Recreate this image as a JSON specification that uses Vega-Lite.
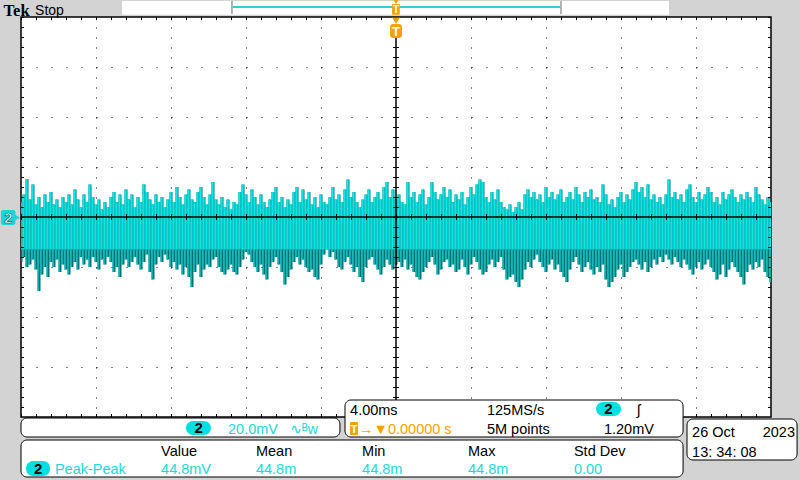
{
  "$schema": "https://vega.github.io/schema/vega-lite/v6.json",
  "width": 750,
  "height": 400,
  "autosize": {"type": "none"},
  "padding": {"left": 21, "top": 17, "right": 29, "bottom": 63},
  "background": "#d3d3d3",
  "config": {
    "view": {"fill": "#ffffff", "stroke": "#000000", "strokeWidth": 1.5},
    "text": {"font": "Liberation Sans", "fontSize": 14.5, "align": "left", "baseline": "alphabetic"}
  },
  "datasets": {
    "one": [{"k": 1}],
    "trace": [
      {"t":-20.00,"hi":6,"lo":-18},{"t":-19.84,"hi":9,"lo":-16},{"t":-19.68,"hi":15.2,"lo":-20},{"t":-19.52,"hi":7,"lo":-19},{"t":-19.36,"hi":13,"lo":-17},
      {"t":-19.20,"hi":5,"lo":-21},{"t":-19.04,"hi":8,"lo":-29.6},{"t":-18.88,"hi":4,"lo":-23},{"t":-18.72,"hi":9,"lo":-20},{"t":-18.56,"hi":6,"lo":-24},
      {"t":-18.40,"hi":10,"lo":-18},{"t":-18.24,"hi":5,"lo":-20},{"t":-18.08,"hi":7,"lo":-17},{"t":-17.92,"hi":4,"lo":-22},{"t":-17.76,"hi":8,"lo":-19},
      {"t":-17.60,"hi":6,"lo":-21},{"t":-17.44,"hi":9,"lo":-23},{"t":-17.28,"hi":5,"lo":-20},{"t":-17.12,"hi":11,"lo":-18},{"t":-16.96,"hi":7,"lo":-21},
      {"t":-16.80,"hi":4,"lo":-16},{"t":-16.64,"hi":9,"lo":-19},{"t":-16.48,"hi":6,"lo":-17},{"t":-16.32,"hi":13,"lo":-20},{"t":-16.16,"hi":8,"lo":-16},
      {"t":-16.00,"hi":5,"lo":-18},{"t":-15.84,"hi":7,"lo":-21},{"t":-15.68,"hi":3,"lo":-17},{"t":-15.52,"hi":6,"lo":-19},{"t":-15.36,"hi":4,"lo":-16},
      {"t":-15.20,"hi":8,"lo":-18},{"t":-15.04,"hi":10,"lo":-22},{"t":-14.88,"hi":6,"lo":-20},{"t":-14.72,"hi":9,"lo":-24},{"t":-14.56,"hi":5,"lo":-19},
      {"t":-14.40,"hi":11,"lo":-17},{"t":-14.24,"hi":7,"lo":-20},{"t":-14.08,"hi":9,"lo":-18},{"t":-13.92,"hi":4,"lo":-16},{"t":-13.76,"hi":8,"lo":-19},
      {"t":-13.60,"hi":6,"lo":-21},{"t":-13.44,"hi":13,"lo":-18},{"t":-13.28,"hi":10,"lo":-15},{"t":-13.12,"hi":7,"lo":-22},{"t":-12.96,"hi":5,"lo":-25},
      {"t":-12.80,"hi":9,"lo":-19},{"t":-12.64,"hi":6,"lo":-16},{"t":-12.48,"hi":8,"lo":-18},{"t":-12.32,"hi":4,"lo":-15},{"t":-12.16,"hi":7,"lo":-17},
      {"t":-12.00,"hi":10,"lo":-20},{"t":-11.84,"hi":6,"lo":-18},{"t":-11.68,"hi":12,"lo":-21},{"t":-11.52,"hi":8,"lo":-19},{"t":-11.36,"hi":5,"lo":-23},
      {"t":-11.20,"hi":9,"lo":-20},{"t":-11.04,"hi":11,"lo":-24},{"t":-10.88,"hi":7,"lo":-28},{"t":-10.72,"hi":6,"lo":-22},{"t":-10.56,"hi":10,"lo":-19},
      {"t":-10.40,"hi":12,"lo":-24},{"t":-10.24,"hi":8,"lo":-21},{"t":-10.08,"hi":5,"lo":-19},{"t":-9.92,"hi":9,"lo":-20},{"t":-9.76,"hi":14,"lo":-17},
      {"t":-9.60,"hi":7,"lo":-16},{"t":-9.44,"hi":5,"lo":-20},{"t":-9.28,"hi":8,"lo":-22},{"t":-9.12,"hi":4,"lo":-23},{"t":-8.96,"hi":7,"lo":-21},
      {"t":-8.80,"hi":3,"lo":-19},{"t":-8.64,"hi":6,"lo":-22},{"t":-8.48,"hi":5,"lo":-23},{"t":-8.32,"hi":10,"lo":-20},{"t":-8.16,"hi":13,"lo":-17},
      {"t":-8.00,"hi":9,"lo":-14},{"t":-7.84,"hi":6,"lo":-15},{"t":-7.68,"hi":11,"lo":-18},{"t":-7.52,"hi":8,"lo":-20},{"t":-7.36,"hi":5,"lo":-22},
      {"t":-7.20,"hi":9,"lo":-19},{"t":-7.04,"hi":6,"lo":-23},{"t":-6.88,"hi":4,"lo":-25},{"t":-6.72,"hi":7,"lo":-20},{"t":-6.56,"hi":10,"lo":-18},
      {"t":-6.40,"hi":12,"lo":-16},{"t":-6.24,"hi":6,"lo":-19},{"t":-6.08,"hi":8,"lo":-22},{"t":-5.92,"hi":4,"lo":-27},{"t":-5.76,"hi":7,"lo":-24},
      {"t":-5.60,"hi":5,"lo":-21},{"t":-5.44,"hi":10,"lo":-18},{"t":-5.28,"hi":12,"lo":-16},{"t":-5.12,"hi":6,"lo":-19},{"t":-4.96,"hi":11,"lo":-17},
      {"t":-4.80,"hi":7,"lo":-20},{"t":-4.64,"hi":10,"lo":-22},{"t":-4.48,"hi":5,"lo":-21},{"t":-4.32,"hi":8,"lo":-24},{"t":-4.16,"hi":4,"lo":-25},
      {"t":-4.00,"hi":9,"lo":-19},{"t":-3.84,"hi":6,"lo":-15},{"t":-3.68,"hi":5,"lo":-13},{"t":-3.52,"hi":8,"lo":-16},{"t":-3.36,"hi":12,"lo":-14},
      {"t":-3.20,"hi":7,"lo":-17},{"t":-3.04,"hi":9,"lo":-20},{"t":-2.88,"hi":6,"lo":-21},{"t":-2.72,"hi":11,"lo":-18},{"t":-2.56,"hi":15,"lo":-16},
      {"t":-2.40,"hi":8,"lo":-19},{"t":-2.24,"hi":10,"lo":-22},{"t":-2.08,"hi":6,"lo":-20},{"t":-1.92,"hi":4,"lo":-24},{"t":-1.76,"hi":7,"lo":-26},
      {"t":-1.60,"hi":9,"lo":-20},{"t":-1.44,"hi":11,"lo":-17},{"t":-1.28,"hi":6,"lo":-16},{"t":-1.12,"hi":8,"lo":-19},{"t":-0.96,"hi":10,"lo":-21},
      {"t":-0.80,"hi":7,"lo":-23},{"t":-0.64,"hi":12,"lo":-20},{"t":-0.48,"hi":14,"lo":-17},{"t":-0.32,"hi":8,"lo":-19},{"t":-0.16,"hi":11,"lo":-21},
      {"t":0.00,"hi":7,"lo":-19},{"t":0.16,"hi":9,"lo":-18},{"t":0.32,"hi":6,"lo":-20},{"t":0.48,"hi":5,"lo":-17},{"t":0.64,"hi":14,"lo":-21},
      {"t":0.80,"hi":8,"lo":-19},{"t":0.96,"hi":10,"lo":-22},{"t":1.12,"hi":6,"lo":-24},{"t":1.28,"hi":9,"lo":-25},{"t":1.44,"hi":11,"lo":-22},
      {"t":1.60,"hi":5,"lo":-20},{"t":1.76,"hi":8,"lo":-18},{"t":1.92,"hi":14,"lo":-16},{"t":2.08,"hi":10,"lo":-19},{"t":2.24,"hi":7,"lo":-23},
      {"t":2.40,"hi":9,"lo":-21},{"t":2.56,"hi":12,"lo":-18},{"t":2.72,"hi":8,"lo":-17},{"t":2.88,"hi":11,"lo":-20},{"t":3.04,"hi":6,"lo":-19},
      {"t":3.20,"hi":9,"lo":-22},{"t":3.36,"hi":7,"lo":-21},{"t":3.52,"hi":10,"lo":-17},{"t":3.68,"hi":5,"lo":-20},{"t":3.84,"hi":8,"lo":-23},
      {"t":4.00,"hi":12,"lo":-19},{"t":4.16,"hi":9,"lo":-16},{"t":4.32,"hi":13,"lo":-18},{"t":4.48,"hi":15,"lo":-21},{"t":4.64,"hi":14,"lo":-23},
      {"t":4.80,"hi":8,"lo":-22},{"t":4.96,"hi":6,"lo":-19},{"t":5.12,"hi":10,"lo":-17},{"t":5.28,"hi":7,"lo":-20},{"t":5.44,"hi":11,"lo":-18},
      {"t":5.60,"hi":6,"lo":-16},{"t":5.76,"hi":4,"lo":-21},{"t":5.92,"hi":3,"lo":-25},{"t":6.08,"hi":5,"lo":-24},{"t":6.24,"hi":2,"lo":-23},
      {"t":6.40,"hi":4,"lo":-26},{"t":6.56,"hi":6,"lo":-28},{"t":6.72,"hi":3,"lo":-25},{"t":6.88,"hi":9,"lo":-21},{"t":7.04,"hi":11,"lo":-18},
      {"t":7.20,"hi":8,"lo":-20},{"t":7.36,"hi":10,"lo":-17},{"t":7.52,"hi":7,"lo":-15},{"t":7.68,"hi":9,"lo":-18},{"t":7.84,"hi":6,"lo":-20},
      {"t":8.00,"hi":12,"lo":-22},{"t":8.16,"hi":8,"lo":-19},{"t":8.32,"hi":10,"lo":-17},{"t":8.48,"hi":7,"lo":-21},{"t":8.64,"hi":9,"lo":-19},
      {"t":8.80,"hi":11,"lo":-22},{"t":8.96,"hi":6,"lo":-24},{"t":9.12,"hi":8,"lo":-26},{"t":9.28,"hi":10,"lo":-21},{"t":9.44,"hi":7,"lo":-18},
      {"t":9.60,"hi":12,"lo":-16},{"t":9.76,"hi":9,"lo":-19},{"t":9.92,"hi":6,"lo":-22},{"t":10.08,"hi":10,"lo":-20},{"t":10.24,"hi":8,"lo":-18},
      {"t":10.40,"hi":11,"lo":-21},{"t":10.56,"hi":7,"lo":-23},{"t":10.72,"hi":8,"lo":-20},{"t":10.88,"hi":6,"lo":-22},{"t":11.04,"hi":13,"lo":-19},
      {"t":11.20,"hi":9,"lo":-25},{"t":11.36,"hi":5,"lo":-28},{"t":11.52,"hi":7,"lo":-26},{"t":11.68,"hi":4,"lo":-24},{"t":11.84,"hi":8,"lo":-21},
      {"t":12.00,"hi":10,"lo":-19},{"t":12.16,"hi":6,"lo":-24},{"t":12.32,"hi":9,"lo":-22},{"t":12.48,"hi":7,"lo":-20},{"t":12.64,"hi":11,"lo":-18},
      {"t":12.80,"hi":14,"lo":-17},{"t":12.96,"hi":10,"lo":-19},{"t":13.12,"hi":12,"lo":-21},{"t":13.28,"hi":8,"lo":-18},{"t":13.44,"hi":13,"lo":-22},
      {"t":13.60,"hi":7,"lo":-20},{"t":13.76,"hi":9,"lo":-17},{"t":13.92,"hi":6,"lo":-19},{"t":14.08,"hi":8,"lo":-16},{"t":14.24,"hi":5,"lo":-18},
      {"t":14.40,"hi":9,"lo":-15},{"t":14.56,"hi":15,"lo":-17},{"t":14.72,"hi":8,"lo":-19},{"t":14.88,"hi":10,"lo":-16},{"t":15.04,"hi":7,"lo":-18},
      {"t":15.20,"hi":9,"lo":-20},{"t":15.36,"hi":6,"lo":-17},{"t":15.52,"hi":11,"lo":-19},{"t":15.68,"hi":13,"lo":-21},{"t":15.84,"hi":8,"lo":-23},
      {"t":16.00,"hi":6,"lo":-20},{"t":16.16,"hi":10,"lo":-18},{"t":16.32,"hi":7,"lo":-21},{"t":16.48,"hi":9,"lo":-19},{"t":16.64,"hi":12,"lo":-17},
      {"t":16.80,"hi":10,"lo":-20},{"t":16.96,"hi":6,"lo":-22},{"t":17.12,"hi":8,"lo":-25},{"t":17.28,"hi":5,"lo":-23},{"t":17.44,"hi":10,"lo":-19},
      {"t":17.60,"hi":7,"lo":-24},{"t":17.76,"hi":9,"lo":-21},{"t":17.92,"hi":11,"lo":-18},{"t":18.08,"hi":8,"lo":-20},{"t":18.24,"hi":6,"lo":-22},
      {"t":18.40,"hi":9,"lo":-24},{"t":18.56,"hi":7,"lo":-27},{"t":18.72,"hi":10,"lo":-22},{"t":18.88,"hi":8,"lo":-19},{"t":19.04,"hi":6,"lo":-21},
      {"t":19.20,"hi":12,"lo":-18},{"t":19.36,"hi":9,"lo":-20},{"t":19.52,"hi":7,"lo":-17},{"t":19.68,"hi":5,"lo":-22},{"t":19.84,"hi":8,"lo":-24},
      {"t":20.00,"hi":6,"lo":-26}
    ]
  },
  "layer": [
    {
      "data": {"name": "trace"},
      "mark": {"type": "rule", "color": "#007272", "strokeWidth": 3, "clip": true},
      "encoding": {
        "x": {"field": "t", "type": "quantitative", "scale": {"domain": [-20, 20], "nice": false, "zero": false},
              "axis": {"values": [-16, -12, -8, -4, 4, 8, 12, 16], "grid": true, "gridDash": [1, 9], "gridColor": "#000000", "gridOpacity": 1, "gridWidth": 1, "domain": false, "ticks": false, "labels": false, "title": null}},
        "y": {"field": "hi", "type": "quantitative", "scale": {"domain": [-80, 80], "nice": false, "zero": false},
              "axis": {"values": [-60, -40, -20, 20, 40, 60], "grid": true, "gridDash": [1, 14], "gridColor": "#000000", "gridOpacity": 1, "gridWidth": 1, "domain": false, "ticks": false, "labels": false, "title": null}},
        "y2": {"field": "lo"}
      }
    },
    {
      "data": {"name": "trace"},
      "mark": {"type": "rule", "color": "#00eaea", "strokeWidth": 2.2, "xOffset": -0.4, "clip": true},
      "encoding": {
        "x": {"field": "t", "type": "quantitative"},
        "y": {"field": "hi", "type": "quantitative"},
        "y2": {"datum": -13}
      }
    },
    {
      "data": {"name": "trace"},
      "mark": {"type": "rule", "color": "#00cccc", "strokeWidth": 1.2, "xOffset": -0.9, "clip": true},
      "encoding": {
        "x": {"field": "t", "type": "quantitative"},
        "y": {"field": "lo", "type": "quantitative"},
        "y2": {"datum": -13}
      }
    },
    {"data": {"name": "one"}, "mark": {"type": "rule", "color": "#000000", "strokeWidth": 6, "strokeDash": [1, 9], "clip": true},
     "encoding": {"x": {"datum": 0}, "y": {"datum": 80}, "y2": {"datum": -80}}},
    {"data": {"name": "one"}, "mark": {"type": "rule", "color": "#000000", "strokeWidth": 6, "strokeDash": [1, 14], "clip": true},
     "encoding": {"y": {"datum": 0}, "x": {"datum": -20}, "x2": {"datum": 20}}},
    {"data": {"name": "one"}, "mark": {"type": "rule", "color": "#000000", "strokeWidth": 6, "strokeDash": [1, 14], "clip": true},
     "encoding": {"y": {"datum": 80}, "x": {"datum": -20}, "x2": {"datum": 20}}},
    {"data": {"name": "one"}, "mark": {"type": "rule", "color": "#000000", "strokeWidth": 6, "strokeDash": [1, 14], "clip": true},
     "encoding": {"y": {"datum": -80}, "x": {"datum": -20}, "x2": {"datum": 20}}},
    {"data": {"name": "one"}, "mark": {"type": "rule", "color": "#000000", "strokeWidth": 6, "strokeDash": [1, 9], "clip": true},
     "encoding": {"x": {"datum": -20}, "y": {"datum": 80}, "y2": {"datum": -80}}},
    {"data": {"name": "one"}, "mark": {"type": "rule", "color": "#000000", "strokeWidth": 6, "strokeDash": [1, 9], "clip": true},
     "encoding": {"x": {"datum": 20}, "y": {"datum": 80}, "y2": {"datum": -80}}},
    {"data": {"name": "one"}, "mark": {"type": "rule", "color": "#000000", "strokeWidth": 1.5, "clip": true},
     "encoding": {"y": {"datum": 0}, "x": {"datum": -20}, "x2": {"datum": 20}}},
    {"data": {"name": "one"}, "mark": {"type": "rule", "color": "#000000", "strokeWidth": 1.5, "clip": true},
     "encoding": {"x": {"datum": 0}, "y": {"datum": 71.6}, "y2": {"datum": -80}}},

    {"data": {"name": "one"}, "mark": {"type": "rect", "fill": "#ffffff", "clip": false},
     "encoding": {"x": {"datum": -14.61}, "x2": {"datum": 14.56}, "y": {"datum": 86.4}, "y2": {"datum": 80.9}}},
    {"data": {"name": "one"}, "mark": {"type": "rule", "color": "#9a9a9a", "strokeWidth": 1.5, "clip": false},
     "encoding": {"x": {"datum": -8.75}, "y": {"datum": 86.4}, "y2": {"datum": 81.2}}},
    {"data": {"name": "one"}, "mark": {"type": "rule", "color": "#9a9a9a", "strokeWidth": 1.5, "clip": false},
     "encoding": {"x": {"datum": 8.8}, "y": {"datum": 86.4}, "y2": {"datum": 81.2}}},
    {"data": {"name": "one"}, "mark": {"type": "rule", "color": "#2ad4d4", "strokeWidth": 2, "clip": false},
     "encoding": {"y": {"datum": 84.0}, "x": {"datum": -8.7}, "x2": {"datum": 8.75}}},
    {"data": {"name": "one"}, "mark": {"type": "rect", "fill": "#f5a200", "clip": false},
     "encoding": {"x": {"datum": -0.21}, "x2": {"datum": 0.2}, "y": {"datum": 85.2}, "y2": {"datum": 80.9}}},
    {"data": {"name": "one"}, "mark": {"type": "point", "shape": "triangle-down", "filled": true, "color": "#f5a200", "opacity": 1, "size": 30, "clip": false},
     "encoding": {"x": {"datum": 0}, "y": {"datum": 86.0}}},
    {"data": {"name": "one"}, "mark": {"type": "text", "text": "T", "fill": "#ffffff", "fontSize": 10, "fontWeight": "bold", "align": "center", "clip": false},
     "encoding": {"x": {"datum": 0}, "y": {"datum": 81.5}}},

    {"data": {"name": "one"}, "mark": {"type": "text", "text": "Tek", "font": "Liberation Serif", "fontSize": 16.5, "fontWeight": "bold", "fill": "#000000", "clip": false},
     "encoding": {"x": {"datum": -20.93}, "y": {"datum": 80.6}}},
    {"data": {"name": "one"}, "mark": {"type": "text", "text": "Stop", "fontSize": 14, "fill": "#000000", "clip": false},
     "encoding": {"x": {"datum": -19.25}, "y": {"datum": 80.8}}},

    {"data": {"name": "one"}, "mark": {"type": "point", "shape": "triangle-down", "filled": true, "color": "#f5a200", "opacity": 1, "size": 60, "clip": false},
     "encoding": {"x": {"datum": 0}, "y": {"datum": 78.5}}},
    {"data": {"name": "one"}, "mark": {"type": "rect", "fill": "#f5a200", "cornerRadius": 3, "clip": false},
     "encoding": {"x": {"datum": -0.32}, "x2": {"datum": 0.32}, "y": {"datum": 77.2}, "y2": {"datum": 71.6}}},
    {"data": {"name": "one"}, "mark": {"type": "text", "text": "T", "fill": "#ffffff", "fontSize": 13, "fontWeight": "bold", "align": "center", "clip": false},
     "encoding": {"x": {"datum": 0}, "y": {"datum": 72.4}}},

    {"data": {"name": "one"}, "mark": {"type": "rect", "fill": "#16d8d8", "cornerRadius": 2, "clip": false},
     "encoding": {"x": {"datum": -21.07}, "x2": {"datum": -20.3}, "y": {"datum": 2.8}, "y2": {"datum": -3.2}}},
    {"data": {"name": "one"}, "mark": {"type": "point", "shape": "triangle-right", "filled": true, "color": "#16d8d8", "opacity": 1, "size": 45, "clip": false},
     "encoding": {"x": {"datum": -20.2}, "y": {"datum": -0.2}}},
    {"data": {"name": "one"}, "mark": {"type": "text", "text": "2", "fill": "#ffffff", "stroke": "#006060", "strokeWidth": 0.6, "fontSize": 15, "fontWeight": "bold", "align": "center", "clip": false},
     "encoding": {"x": {"datum": -20.67}, "y": {"datum": -2.4}}},

    {"data": {"name": "one"}, "mark": {"type": "rect", "fill": "#ffffff", "stroke": "#000000", "strokeWidth": 1, "cornerRadius": 6, "clip": false},
     "encoding": {"x": {"datum": -20}, "x2": {"datum": -2.99}, "y": {"datum": -80.4}, "y2": {"datum": -88.0}}},
    {"data": {"name": "one"}, "mark": {"type": "rect", "fill": "#ffffff", "stroke": "#000000", "strokeWidth": 1, "cornerRadius": 6, "clip": false},
     "encoding": {"x": {"datum": -2.72}, "x2": {"datum": 15.31}, "y": {"datum": -73.2}, "y2": {"datum": -88.0}}},
    {"data": {"name": "one"}, "mark": {"type": "rect", "fill": "#ffffff", "stroke": "#000000", "strokeWidth": 1, "cornerRadius": 6, "clip": false},
     "encoding": {"x": {"datum": -20}, "x2": {"datum": 15.31}, "y": {"datum": -89.2}, "y2": {"datum": -104.0}}},
    {"data": {"name": "one"}, "mark": {"type": "rect", "fill": "#ffffff", "stroke": "#000000", "strokeWidth": 1, "cornerRadius": 6, "clip": false},
     "encoding": {"x": {"datum": 15.52}, "x2": {"datum": 21.39}, "y": {"datum": -80.8}, "y2": {"datum": -97.2}}},

    {"data": {"name": "one"}, "mark": {"type": "rect", "fill": "#00e0e0", "cornerRadius": 7, "clip": false},
     "encoding": {"x": {"datum": -11.2}, "x2": {"datum": -9.87}, "y": {"datum": -81.6}, "y2": {"datum": -87.2}}},
    {"data": {"name": "one"}, "mark": {"type": "text", "text": "2", "fill": "#000000", "fontWeight": "bold", "fontSize": 15, "align": "center", "baseline": "middle", "clip": false},
     "encoding": {"x": {"datum": -10.53}, "y": {"datum": -84.4}}},
    {"data": {"name": "one"}, "mark": {"type": "text", "text": "20.0mV", "fill": "#1ad8d8", "clip": false},
     "encoding": {"x": {"datum": -8.96}, "y": {"datum": -86.8}}},
    {"data": {"name": "one"}, "mark": {"type": "text", "text": "∿ᴮw", "fill": "#1ad8d8", "fontSize": 14, "clip": false},
     "encoding": {"x": {"datum": -5.65}, "y": {"datum": -86.8}}},

    {"data": {"name": "one"}, "mark": {"type": "text", "text": "4.00ms", "fill": "#000000", "clip": false},
     "encoding": {"x": {"datum": -2.45}, "y": {"datum": -79.2}}},
    {"data": {"name": "one"}, "mark": {"type": "text", "text": "125MS/s", "fill": "#000000", "clip": false},
     "encoding": {"x": {"datum": 4.85}, "y": {"datum": -79.2}}},
    {"data": {"name": "one"}, "mark": {"type": "rect", "fill": "#00e0e0", "cornerRadius": 7, "clip": false},
     "encoding": {"x": {"datum": 10.67}, "x2": {"datum": 12.0}, "y": {"datum": -74.0}, "y2": {"datum": -79.6}}},
    {"data": {"name": "one"}, "mark": {"type": "text", "text": "2", "fill": "#000000", "fontWeight": "bold", "fontSize": 15, "align": "center", "baseline": "middle", "clip": false},
     "encoding": {"x": {"datum": 11.33}, "y": {"datum": -76.8}}},
    {"data": {"name": "one"}, "mark": {"type": "text", "text": "ʃ", "fill": "#000000", "fontSize": 15, "clip": false},
     "encoding": {"x": {"datum": 12.85}, "y": {"datum": -79.2}}},
    {"data": {"name": "one"}, "mark": {"type": "rect", "fill": "#f5a200", "cornerRadius": 1, "clip": false},
     "encoding": {"x": {"datum": -2.45}, "x2": {"datum": -2.03}, "y": {"datum": -82.0}, "y2": {"datum": -87.2}}},
    {"data": {"name": "one"}, "mark": {"type": "text", "text": "T", "fill": "#ffffff", "fontSize": 11, "fontWeight": "bold", "align": "center", "clip": false},
     "encoding": {"x": {"datum": -2.24}, "y": {"datum": -86.4}}},
    {"data": {"name": "one"}, "mark": {"type": "text", "text": "→▼0.00000 s", "fill": "#f5a200", "clip": false},
     "encoding": {"x": {"datum": -1.97}, "y": {"datum": -86.8}}},
    {"data": {"name": "one"}, "mark": {"type": "text", "text": "5M points", "fill": "#000000", "clip": false},
     "encoding": {"x": {"datum": 4.85}, "y": {"datum": -86.8}}},
    {"data": {"name": "one"}, "mark": {"type": "text", "text": "1.20mV", "fill": "#000000", "clip": false},
     "encoding": {"x": {"datum": 11.09}, "y": {"datum": -86.8}}},

    {"data": {"name": "one"}, "mark": {"type": "text", "text": "Value", "fill": "#000000", "clip": false},
     "encoding": {"x": {"datum": -12.53}, "y": {"datum": -95.6}}},
    {"data": {"name": "one"}, "mark": {"type": "text", "text": "Mean", "fill": "#000000", "clip": false},
     "encoding": {"x": {"datum": -7.47}, "y": {"datum": -95.6}}},
    {"data": {"name": "one"}, "mark": {"type": "text", "text": "Min", "fill": "#000000", "clip": false},
     "encoding": {"x": {"datum": -1.81}, "y": {"datum": -95.6}}},
    {"data": {"name": "one"}, "mark": {"type": "text", "text": "Max", "fill": "#000000", "clip": false},
     "encoding": {"x": {"datum": 3.84}, "y": {"datum": -95.6}}},
    {"data": {"name": "one"}, "mark": {"type": "text", "text": "Std Dev", "fill": "#000000", "clip": false},
     "encoding": {"x": {"datum": 9.49}, "y": {"datum": -95.6}}},
    {"data": {"name": "one"}, "mark": {"type": "rect", "fill": "#00e0e0", "cornerRadius": 7, "clip": false},
     "encoding": {"x": {"datum": -19.73}, "x2": {"datum": -18.45}, "y": {"datum": -97.6}, "y2": {"datum": -103.6}}},
    {"data": {"name": "one"}, "mark": {"type": "text", "text": "2", "fill": "#000000", "fontWeight": "bold", "fontSize": 15, "align": "center", "baseline": "middle", "clip": false},
     "encoding": {"x": {"datum": -19.09}, "y": {"datum": -100.6}}},
    {"data": {"name": "one"}, "mark": {"type": "text", "text": "Peak-Peak", "fill": "#1ad8d8", "clip": false},
     "encoding": {"x": {"datum": -18.19}, "y": {"datum": -102.8}}},
    {"data": {"name": "one"}, "mark": {"type": "text", "text": "44.8mV", "fill": "#1ad8d8", "clip": false},
     "encoding": {"x": {"datum": -12.53}, "y": {"datum": -102.8}}},
    {"data": {"name": "one"}, "mark": {"type": "text", "text": "44.8m", "fill": "#1ad8d8", "clip": false},
     "encoding": {"x": {"datum": -7.47}, "y": {"datum": -102.8}}},
    {"data": {"name": "one"}, "mark": {"type": "text", "text": "44.8m", "fill": "#1ad8d8", "clip": false},
     "encoding": {"x": {"datum": -1.81}, "y": {"datum": -102.8}}},
    {"data": {"name": "one"}, "mark": {"type": "text", "text": "44.8m", "fill": "#1ad8d8", "clip": false},
     "encoding": {"x": {"datum": 3.84}, "y": {"datum": -102.8}}},
    {"data": {"name": "one"}, "mark": {"type": "text", "text": "0.00", "fill": "#1ad8d8", "clip": false},
     "encoding": {"x": {"datum": 9.49}, "y": {"datum": -102.8}}},

    {"data": {"name": "one"}, "mark": {"type": "text", "text": "26 Oct", "fill": "#000000", "clip": false},
     "encoding": {"x": {"datum": 15.79}, "y": {"datum": -88.0}}},
    {"data": {"name": "one"}, "mark": {"type": "text", "text": "2023", "fill": "#000000", "align": "right", "clip": false},
     "encoding": {"x": {"datum": 21.28}, "y": {"datum": -88.0}}},
    {"data": {"name": "one"}, "mark": {"type": "text", "text": "13: 34: 08", "fill": "#000000", "clip": false},
     "encoding": {"x": {"datum": 15.79}, "y": {"datum": -96.0}}}
  ]
}
